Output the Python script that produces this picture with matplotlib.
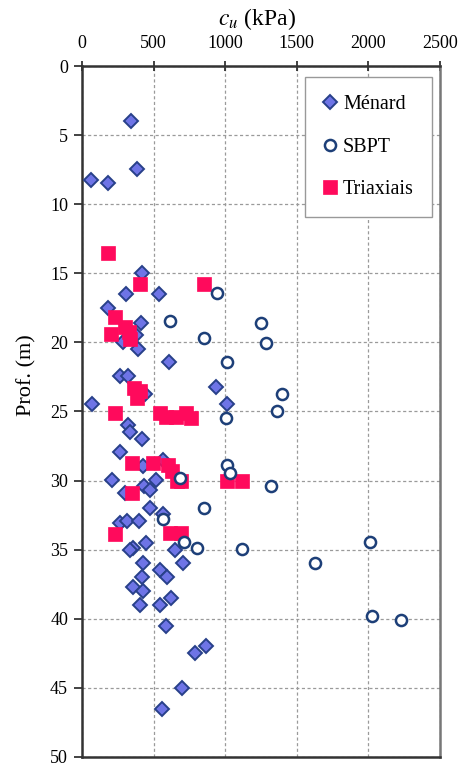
import matplotlib
matplotlib.use("Agg")
import matplotlib.pyplot as plt

plt.rcParams['font.family'] = ['Liberation Serif', 'DejaVu Serif']
plt.rcParams['mathtext.fontset'] = 'stix'

# Ménard pressuremeter
menard_cu = [340, 386, 63, 179, 421, 307, 537, 179, 409, 377, 288, 390, 609, 265, 323,
             936, 442, 73, 1013, 323, 333, 418, 265, 565, 428, 210, 516, 436, 472, 300,
             474, 567, 265, 316, 400, 446, 358, 335, 648, 423, 707, 544, 421, 595, 358,
             423, 625, 404, 544, 590, 869, 788, 702, 556]
menard_z = [4.0, 7.45, 8.25, 8.44, 14.95, 16.5, 16.5, 17.5, 18.6, 19.45, 20.0, 20.5, 21.45, 22.45, 22.45,
            23.25, 23.7, 24.45, 24.45, 25.95, 26.45, 27.0, 27.95, 28.5, 28.97, 29.95, 29.95, 30.4, 30.65, 30.9,
            32.0, 32.45, 33.05, 32.95, 32.95, 34.5, 34.9, 35.0, 35.0, 35.96, 35.96, 36.5, 36.97, 36.97, 37.7,
            38.0, 38.5, 39.0, 39.0, 40.5, 41.95, 42.5, 45.0, 46.5]

# SBPT
sbpt_cu = [946, 614, 1253, 851, 1283, 1011, 1397, 1364, 1004, 1013, 1037, 685, 1320, 851,
           567, 711, 800, 1115, 2010, 1630, 2027, 2231]
sbpt_z = [16.4, 18.45, 18.6, 19.65, 20.05, 21.4, 23.7, 24.97, 25.45, 28.9, 29.45, 29.8, 30.4, 32.0,
          32.8, 34.45, 34.9, 34.95, 34.47, 35.96, 39.8, 40.06]

# Triaxiais
tri_cu = [179, 404, 853, 230, 300, 325, 338, 200, 363, 404, 383, 230, 544, 590, 660, 730, 765,
          346, 497, 602, 632, 665, 695, 1013, 1118, 346, 230, 614, 695]
tri_z = [13.5, 15.8, 15.8, 18.15, 18.85, 19.25, 19.75, 19.4, 23.3, 23.55, 24.0, 25.1, 25.1, 25.4, 25.4, 25.1, 25.5,
         28.75, 28.75, 28.85, 29.3, 30.0, 30.0, 30.0, 30.0, 30.9, 33.85, 33.8, 33.8]

x_ticks = [0, 500, 1000, 1500, 2000, 2500]
y_ticks = [0, 5, 10, 15, 20, 25, 30, 35, 40, 45, 50]

fig = plt.figure(figsize=(4.62, 7.66), dpi=100)
ax = fig.add_axes([0.1775, 0.0118, 0.7745, 0.902])

ax.plot(menard_cu, menard_z, linestyle='none', marker='D', markersize=6.8,
        markerfacecolor='#6e74e6', markeredgecolor='#28408a', markeredgewidth=1.4,
        label='Ménard', zorder=3)
ax.plot(tri_cu, tri_z, linestyle='none', marker='s', markersize=9.5,
        markerfacecolor='#ff0a5c', markeredgecolor='#ff0a5c', markeredgewidth=0.5,
        label='Triaxiais', zorder=4)
ax.plot(sbpt_cu, sbpt_z, linestyle='none', marker='o', markersize=8,
        markerfacecolor='white', markeredgecolor='#1d3f78', markeredgewidth=1.8,
        label='SBPT', zorder=5)

ax.set_xlim(0, 2500)
ax.set_ylim(50, 0)
ax.set_xticks(x_ticks)
ax.set_yticks(y_ticks)
ax.xaxis.tick_top()
ax.xaxis.set_label_position('top')
ax.tick_params(axis='x', direction='inout', length=7, width=1.2, labelsize=13, pad=6.5, colors='#222222')
ax.tick_params(axis='y', direction='out', length=6, width=1.2, labelsize=13, pad=4, colors='#222222')
for lbl in ax.get_xticklabels() + ax.get_yticklabels():
    lbl.set_color('black')

ax.set_xlabel('$c_u$ (kPa)', fontsize=17)
ax.set_ylabel('Prof. (m)', fontsize=16)
ax.xaxis.set_label_coords(0.488, 1.06)
ax.yaxis.set_label_coords(-0.128, 0.553)

ax.grid(True, color='#9a9a9a', linestyle=(0, (2.5, 2)), linewidth=0.9)
ax.set_axisbelow(True)

for side in ['left', 'top', 'bottom']:
    ax.spines[side].set_color('#333333')
    ax.spines[side].set_linewidth(1.8)
ax.spines['right'].set_color('#777777')
ax.spines['right'].set_linewidth(1.8)

h, l = ax.get_legend_handles_labels()
order = [0, 2, 1]
leg = ax.legend([h[i] for i in order], [l[i] for i in order],
                loc='upper right', bbox_to_anchor=(0.978, 0.984), borderaxespad=0,
                fontsize=14.5, labelspacing=1.15, handlelength=0.7, handletextpad=0.3,
                borderpad=0.9, fancybox=False, framealpha=1, edgecolor='#999999')
leg.get_frame().set_linewidth(1.0)

fig.savefig('out.png', dpi=100)
